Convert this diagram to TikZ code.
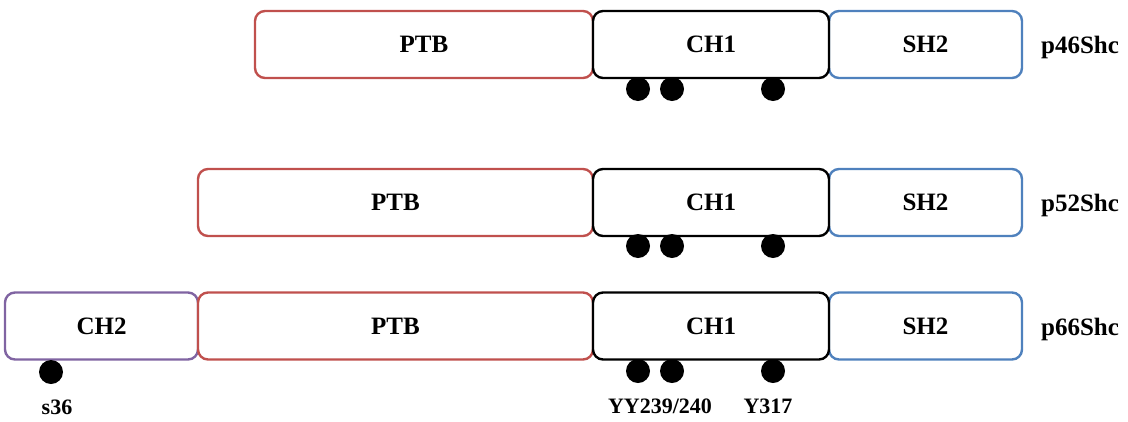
\documentclass[tikz,border=0pt]{standalone}
\usepackage{fontspec}
\setmainfont{Liberation Serif}
\definecolor{cred}{RGB}{192,80,77}
\definecolor{cblue}{RGB}{79,129,189}
\definecolor{cpurp}{RGB}{128,100,162}
\tikzset{
  dom/.style={draw, line width=2.4pt, rounded corners=10pt, fill=white, minimum height=67pt,
     inner sep=0pt, font=\fontsize{25}{28}\selectfont\bfseries},
  ptb/.style={dom, draw=cred},
  cha/.style={dom, draw=black},
  sha/.style={dom, draw=cblue},
  chb/.style={dom, draw=cpurp},
  dot/.style={circle, fill=black, minimum size=24pt, inner sep=0pt},
  lab/.style={font=\fontsize{25}{28}\selectfont\bfseries, inner sep=0pt},
  slab/.style={font=\fontsize{22}{26}\selectfont\bfseries, inner sep=0pt}
}
\begin{document}
\begin{tikzpicture}[x=1pt,y=-1pt]
\useasboundingbox (0,0) rectangle (1128,421);
% row 1
\node[ptb, minimum width=338pt] (ptbA) at (424,44.5) {PTB};
\node[sha, minimum width=193pt] (shA) at (925.5,44.5) {SH2};
\node[cha, minimum width=236pt] (chA) at (711,44.5) {CH1};
\node[lab] (lA) at (1080,47) {p46Shc};
\node[dot] (dA1) at (638,89) {};
\node[dot] (dA2) at (672,89) {};
\node[dot] (dA3) at (773,89) {};
% row 2
\node[ptb, minimum width=395pt] (ptbB) at (395.5,202.5) {PTB};
\node[sha, minimum width=193pt] (shB) at (925.5,202.5) {SH2};
\node[cha, minimum width=236pt] (chB) at (711,202.5) {CH1};
\node[lab] (lB) at (1080,205) {p52Shc};
\node[dot] (dB1) at (638,246) {};
\node[dot] (dB2) at (672,246) {};
\node[dot] (dB3) at (773,246) {};
% row 3
\node[chb, minimum width=193pt] (chC2) at (101.5,326) {CH2};
\node[ptb, minimum width=395pt] (ptbC) at (395.5,326) {PTB};
\node[sha, minimum width=193pt] (shC) at (925.5,326) {SH2};
\node[cha, minimum width=236pt] (chC) at (711,326) {CH1};
\node[lab] (lC) at (1080,329) {p66Shc};
\node[dot] (dC0) at (51,372) {};
\node[dot] (dC1) at (638,371) {};
\node[dot] (dC2) at (672,371) {};
\node[dot] (dC3) at (773,371) {};
\node[slab] (s36) at (57,407) {s36};
\node[slab] (yy) at (660,406) {YY239/240};
\node[slab] (y317) at (768,406) {Y317};
\end{tikzpicture}
\end{document}
